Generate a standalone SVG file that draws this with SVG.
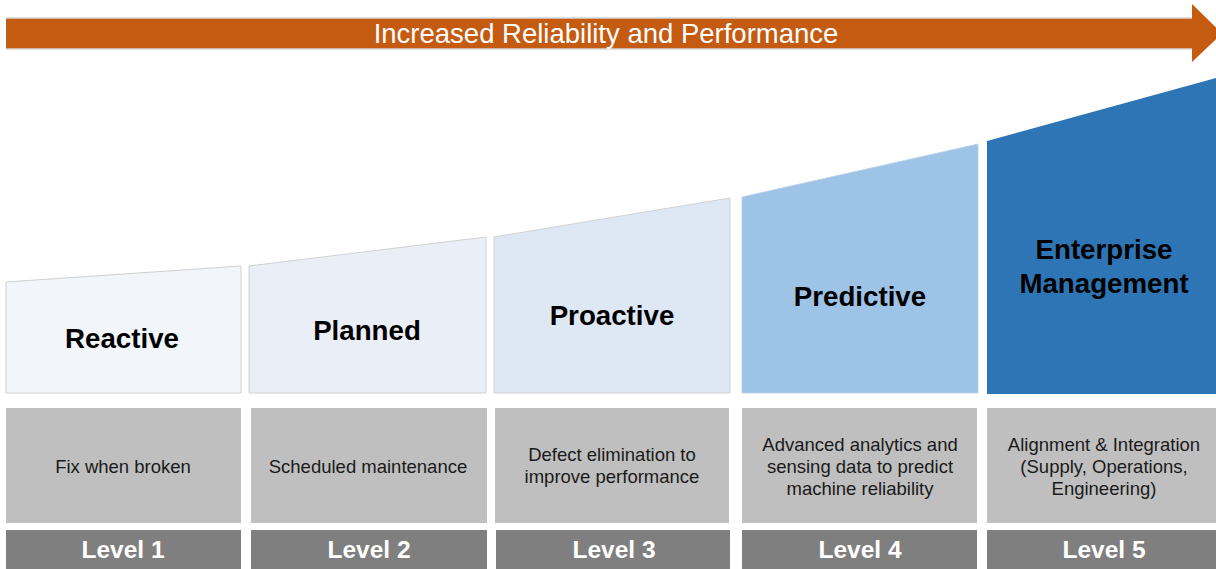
<svg xmlns="http://www.w3.org/2000/svg" width="1216" height="569" viewBox="0 0 1216 569">
<style>
.ttl{font-family:"Liberation Sans",Arial,sans-serif;font-weight:bold;font-size:27.7px;fill:#000;text-anchor:middle}
.dsc{font-family:"Liberation Sans",Arial,sans-serif;font-size:18.5px;fill:#1a1a1a;text-anchor:middle}
.lvl{font-family:"Liberation Sans",Arial,sans-serif;font-weight:bold;font-size:24.5px;fill:#fff;text-anchor:middle}
.gbox{fill:#bfbfbf}
.lbar{fill:#7f7f7f}
.edge{stroke:#d0d0d0;stroke-width:1}
</style>
<rect width="1216" height="569" fill="#fff"/>
<g id="arrow">
<polygon points="6,18.5 1192,18.5 1192,4 1222,33.5 1192,62 1192,48.5 6,48.5" fill="#c55a11"/>
<line x1="6" y1="18" x2="1192" y2="18" stroke="#c0c0c0" stroke-width="1"/>
<line x1="6" y1="49" x2="1192" y2="49" stroke="#c0c0c0" stroke-width="1"/>
<text x="606" y="42.5" font-family="Liberation Sans, Arial, sans-serif" font-size="27.5" fill="#fff" text-anchor="middle">Increased Reliability and Performance</text>
</g>
<g id="level1">
<polygon class="edge" points="6,282 241,266 241,393 6,393" fill="#f2f5fa"/>
<text class="ttl" x="122" y="348">Reactive</text>
<rect class="gbox" x="6" y="408" width="235" height="115"/>
<text class="dsc" x="123" y="473">Fix when broken</text>
<rect class="lbar" x="6" y="530" width="235" height="39"/>
<text class="lvl" x="123" y="558">Level 1</text>
</g>
<g id="level2">
<polygon class="edge" points="249,266 486,237 486,393 249,393" fill="#eaeff7"/>
<text class="ttl" x="367" y="340">Planned</text>
<rect class="gbox" x="251" y="408" width="236" height="115"/>
<text class="dsc" x="368" y="473">Scheduled maintenance</text>
<rect class="lbar" x="251" y="530" width="236" height="39"/>
<text class="lvl" x="369" y="558">Level 2</text>
</g>
<g id="level3">
<polygon class="edge" points="494,237 730,198 730,393 494,393" fill="#dde8f4"/>
<text class="ttl" x="612" y="325">Proactive</text>
<rect class="gbox" x="495" y="408" width="234" height="115"/>
<text class="dsc" x="612" y="461">Defect elimination to</text>
<text class="dsc" x="612" y="483">improve performance</text>
<rect class="lbar" x="496" y="530" width="234" height="39"/>
<text class="lvl" x="614" y="558">Level 3</text>
</g>
<g id="level4">
<polygon points="742,197 978,144 978,393 742,393" fill="#9dc3e6" stroke="#b8cfe6" stroke-width="0.8"/>
<text class="ttl" x="860" y="306">Predictive</text>
<rect class="gbox" x="742" y="408" width="235" height="115"/>
<text class="dsc" x="860" y="451">Advanced analytics and</text>
<text class="dsc" x="860" y="473">sensing data to predict</text>
<text class="dsc" x="860" y="495">machine reliability</text>
<rect class="lbar" x="742" y="530" width="235" height="39"/>
<text class="lvl" x="860" y="558">Level 4</text>
</g>
<g id="level5">
<polygon points="987,141 1216,78 1216,394 987,394" fill="#2e75b6"/>
<text class="ttl" x="1104" y="259">Enterprise</text>
<text class="ttl" x="1104" y="293">Management</text>
<rect class="gbox" x="987" y="408" width="229" height="115"/>
<text class="dsc" x="1104" y="451">Alignment &amp; Integration</text>
<text class="dsc" x="1104" y="473">(Supply, Operations,</text>
<text class="dsc" x="1104" y="495">Engineering)</text>
<rect class="lbar" x="987" y="530" width="229" height="39"/>
<text class="lvl" x="1104" y="558">Level 5</text>
</g>
<g id="connectors"></g>
</svg>
